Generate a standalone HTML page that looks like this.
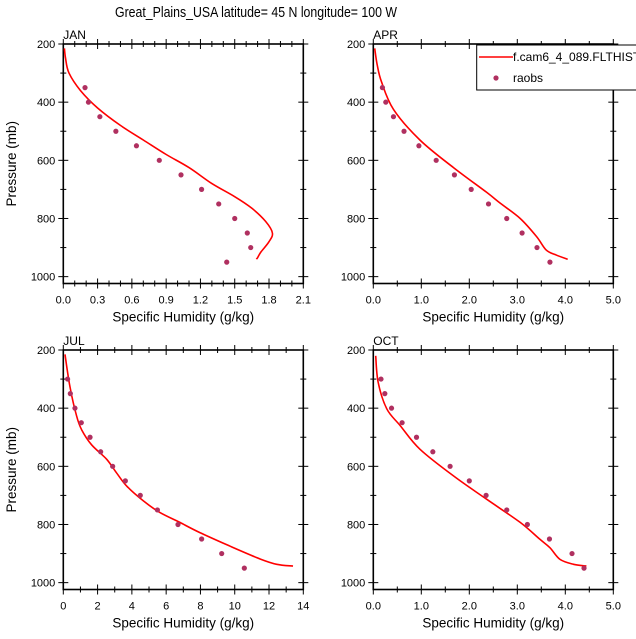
<!DOCTYPE html>
<html><head><meta charset="utf-8"><style>
body{margin:0;background:#fff;}
svg{display:block;font-family:"Liberation Sans",Arial,sans-serif;}
</style></head><body>
<svg id="chart" width="636" height="639" viewBox="0 0 636 639">
<text x="115" y="17" font-size="14.5" textLength="282" lengthAdjust="spacingAndGlyphs">Great_Plains_USA  latitude= 45 N longitude= 100 W</text>
</svg>
<script>
// ---- data ----
const obsPressure = [350,400,450,500,550,600,650,700,750,800,850,900,950];
const obsPressureFull = [300,350,400,450,500,550,600,650,700,750,800,850,900,950];
const janObs = [0.19,0.22,0.32,0.46,0.64,0.84,1.03,1.21,1.36,1.5,1.61,1.64,1.43];
const aprObs = [0.19,0.26,0.42,0.64,0.95,1.31,1.69,2.04,2.4,2.78,3.1,3.41,3.68];
const julObs = [0.25,0.41,0.68,1.05,1.56,2.18,2.88,3.62,4.49,5.49,6.69,8.07,9.24,10.56];
const octObs = [0.16,0.24,0.38,0.6,0.9,1.24,1.6,2.0,2.35,2.78,3.21,3.67,4.14,4.39];

const janModelP = [215,250,300,360,420,480,530,580,625,680,725,765,810,850,880,915,935,940];
const janModelQ = [0.01,0.02,0.05,0.15,0.3,0.5,0.7,0.9,1.1,1.3,1.5,1.65,1.77,1.83,1.8,1.73,1.7,1.69];
const aprModelP = [215,270,330,425,530,625,710,748,800,862,908,925,940];
const aprModelQ = [0.03,0.08,0.17,0.42,0.97,1.67,2.36,2.65,3.06,3.4,3.6,3.8,4.05];
const julModelP = [215,327,428,474,526,576,622,668,719,759,793,828,879,919,937,943];
const julModelQ = [0.1,0.39,0.78,1.07,1.65,2.53,3.1,3.7,4.67,5.64,6.8,7.97,9.9,11.5,12.45,13.4];
const octModelP = [220,310,402,460,541,633,713,793,851,880,920,937,943];
const octModelQ = [0.05,0.1,0.28,0.56,0.97,1.67,2.36,3.06,3.47,3.68,3.89,4.17,4.44];

const janTicks = ["0.0","0.3","0.6","0.9","1.2","1.5","1.8","2.1"];
const fiveTicks = ["0.0","1.0","2.0","3.0","4.0","5.0"];
const julTicks = ["0","2","4","6","8","10","12","14"];
const pTicks = [200,400,600,800,1000];

const NS="http://www.w3.org/2000/svg";
const svg=document.getElementById('chart');
function mk(tag,attrs,parent){const e=document.createElementNS(NS,tag);for(const k in attrs)e.setAttribute(k,attrs[k]);(parent||svg).appendChild(e);return e;}

function smoothPath(P){
  let d='M'+P[0][0].toFixed(1)+','+P[0][1].toFixed(1);
  for(let i=0;i<P.length-1;i++){
    const p0=P[Math.max(0,i-1)],p1=P[i],p2=P[i+1],p3=P[Math.min(P.length-1,i+2)];
    const c1x=p1[0]+(p2[0]-p0[0])/6,c1y=p1[1]+(p2[1]-p0[1])/6;
    const c2x=p2[0]-(p3[0]-p1[0])/6,c2y=p2[1]-(p3[1]-p1[1])/6;
    d+=' C'+c1x.toFixed(1)+','+c1y.toFixed(1)+' '+c2x.toFixed(1)+','+c2y.toFixed(1)+' '+p2[0].toFixed(1)+','+p2[1].toFixed(1);
  }
  return d;
}

function panel(cfg){
  const g=mk('g',{});
  
  
  const L=cfg.x0,R=cfg.x0+240,T=cfg.y0,B=cfg.y0+239.5;
  const xmax=cfg.xmax;
  const xs=v=>L+v/xmax*240;
  const ys=p=>T+(p-200)*0.2908;
  const fr=mk('rect',{x:L,y:T,width:240,height:B-T,fill:'none',stroke:'#000','stroke-width':1.6},g);
  
  
  const nMaj=cfg.ticks.length-1, minorPer=cfg.minor;
  for(let i=0;i<=nMaj*minorPer;i++){
    const x=L+i*240/(nMaj*minorPer);
    const maj=i%minorPer===0;
    const len=maj?5:3;
    mk('line',{x1:x,y1:B-len,x2:x,y2:B+len,stroke:'#000','stroke-width':1},g);
    mk('line',{x1:x,y1:T-len,x2:x,y2:T+len,stroke:'#000','stroke-width':1},g);
  }
  cfg.ticks.forEach((t,i)=>{
    const tx=mk('text',{x:L+i*240/nMaj,y:B+20,'font-size':11,'text-anchor':'middle'},g);
    tx.textContent=t;
    
    
  });
  for(let p=200;p<=1000;p+=100){
    const y=ys(p);const maj=p%200===0;const len=maj?5:3;
    mk('line',{x1:L-len,y1:y,x2:L+len,y2:y,stroke:'#000','stroke-width':1},g);
    mk('line',{x1:R-len,y1:y,x2:R+len,y2:y,stroke:'#000','stroke-width':1},g);
  }
  pTicks.forEach(p=>{
    const tx=mk('text',{x:L-8,y:ys(p)+4,'font-size':11,'text-anchor':'end'},g);
    tx.textContent=p;
    
    
  });
  const xt=mk('text',{x:L+120,y:B+38,'font-size':13.5,'text-anchor':'middle'},g);
  xt.textContent='Specific Humidity (g/kg)';
  
  
  if(cfg.ylab){
    const yt=mk('text',{x:0,y:0,'font-size':13.5,'text-anchor':'middle',transform:`translate(16,${(T+B)/2}) rotate(-90)`},g);
    yt.textContent='Pressure (mb)';
    
    
  }
  const pt=mk('text',{x:L,y:T-5,'font-size':12},g);
  pt.textContent=cfg.label;
  
  
  const P=cfg.mq.map((q,i)=>[xs(q),ys(cfg.mp[i])]);
  const ln=mk('path',{d:smoothPath(P),fill:'none',stroke:'#f00','stroke-width':1.6,'stroke-linejoin':'round'},g);
  
  
  cfg.oq.forEach((q,i)=>{
    const c=mk('circle',{cx:xs(q),cy:ys(cfg.op[i]),r:2.6,fill:'#b03060'},g);
    
    
  });
}
panel({id:'jan',label:'JAN',x0:63.3,y0:44,xmax:2.1,ticks:janTicks,minor:3,ylab:true,mq:janModelQ,mp:janModelP,oq:janObs,op:obsPressure});
panel({id:'apr',label:'APR',x0:373.3,y0:44,xmax:5,ticks:fiveTicks,minor:2,ylab:false,mq:aprModelQ,mp:aprModelP,oq:aprObs,op:obsPressure});
panel({id:'jul',label:'JUL',x0:63.3,y0:350,xmax:14,ticks:julTicks,minor:2,ylab:true,mq:julModelQ,mp:julModelP,oq:julObs,op:obsPressureFull});
panel({id:'oct',label:'OCT',x0:373.3,y0:350,xmax:5,ticks:fiveTicks,minor:2,ylab:false,mq:octModelQ,mp:octModelP,oq:octObs,op:obsPressureFull});

const lg=mk('g',{});


mk('rect',{x:476.7,y:45,width:170,height:45,fill:'#fff',stroke:'#000','stroke-width':1},lg);
mk('line',{x1:479,y1:57,x2:513,y2:57,stroke:'#f00','stroke-width':1.6},lg);
const l1=mk('text',{x:513,y:61,'font-size':12},lg);
l1.textContent='f.cam6_4_089.FLTHIST';


mk('circle',{cx:496,cy:78,r:2.6,fill:'#b03060'},lg);
const l2=mk('text',{x:513,y:82,'font-size':12},lg);
l2.textContent='raobs';


</script>
</body></html>
